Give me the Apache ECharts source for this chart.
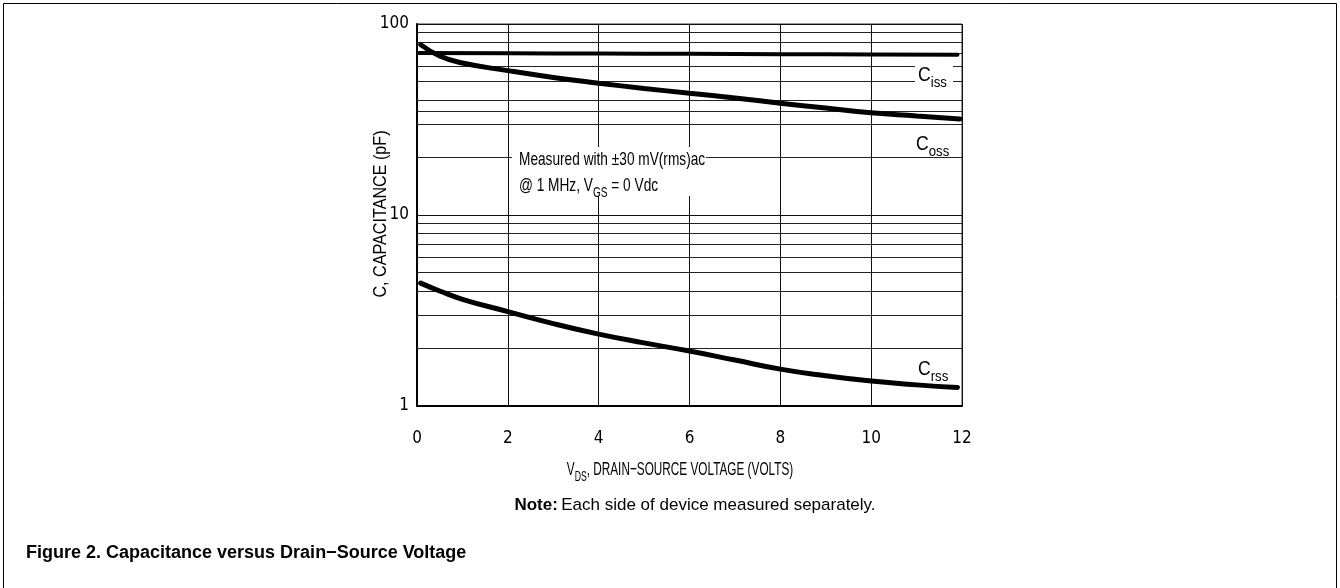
<!DOCTYPE html>
<html>
<head>
<meta charset="utf-8">
<script src="https://cdn.jsdelivr.net/npm/echarts@6/dist/echarts.min.js"></script>
<style>
  html, body { margin: 0; background: #fff; }
  #chart { width: 1340px; height: 588px; }
</style>
</head>
<body>
<div id="chart"></div>
<script>
// capacitance vs drain-source voltage, log y
const xTicks = [0, 2, 4, 6, 8, 10, 12]
const yTicks = [1, 10, 100]
const minorGrid = [2, 3, 4, 5, 6, 7, 8, 9, 20, 30, 35, 40, 50, 60, 70, 80, 90]

const cissV = [0.05, 2, 4, 6, 8, 10, 11.9]
const cissC = [70.5, 70.3, 70, 69.8, 69.5, 69.2, 69]
const cossV = [0.08, 0.5, 1, 2, 3, 4, 5, 6, 7, 8, 9, 10, 11, 11.95]
const cossC = [78, 68, 62.5, 57, 52.5, 49, 46, 43.4, 41, 38.5, 36.3, 34.3, 33, 31.8]
const crssV = [0.08, 0.5, 1, 2, 3, 4, 5, 6, 7, 8, 9, 10, 11, 11.9]
const crssC = [4.4, 4.0, 3.62, 3.12, 2.7, 2.38, 2.14, 1.94, 1.74, 1.56, 1.44, 1.35, 1.29, 1.25]

const COND = '"DejaVu Sans Condensed", sans-serif'
const SANS = '"Liberation Sans", Arial, sans-serif'

const pairs = (xs, ys) => xs.map((x, i) => [x, ys[i]])

// C + subscript rich styles
const subRich = (big, small) => ({
  m: { fontFamily: SANS, fontSize: big, color: '#000', lineHeight: big + 4 },
  s: { fontFamily: SANS, fontSize: small, color: '#000', lineHeight: big + 4, verticalAlign: 'bottom', padding: [0, 0, -3, 0] },
})

const curve = (name, data, width) => ({
  name,
  type: 'line',
  data,
  smooth: true,
  showSymbol: false,
  z: 5,
  lineStyle: { color: '#000', width, cap: 'round' },
})

const label = (x, y, text, scaleX, rich, align = 'left') => ({
  type: 'text', z: 11, x, y, scaleX,
  style: { text, rich, align, verticalAlign: 'middle' },
})

const chart = echarts.init(document.getElementById('chart'))
chart.setOption({
  animation: false,
  backgroundColor: '#fff',
  grid: { left: 417, top: 24, width: 545, height: 382, show: true, borderColor: '#333', borderWidth: 1 },
  xAxis: {
    type: 'value',
    min: xTicks[0],
    max: xTicks[xTicks.length - 1],
    interval: 2,
    axisLine: { lineStyle: { color: '#000', width: 2 } },
    axisTick: { show: false },
    axisLabel: { color: '#000', fontFamily: COND, fontSize: 17, margin: 24 },
    splitLine: { lineStyle: { color: '#111', width: 1 } },
  },
  yAxis: {
    type: 'log',
    logBase: 10,
    min: yTicks[0],
    max: yTicks[yTicks.length - 1],
    axisLine: { lineStyle: { color: '#000', width: 2 } },
    axisTick: { show: false },
    axisLabel: { color: '#000', fontFamily: COND, fontSize: 17, margin: 8 },
    splitLine: { lineStyle: { color: '#111', width: 1 } },
  },
  series: [
    {
      name: 'grid',
      type: 'line',
      data: [],
      z: 1,
      silent: true,
      markLine: {
        silent: true,
        symbol: 'none',
        label: { show: false },
        lineStyle: { color: '#222', width: 1, type: 'solid' },
        data: minorGrid.map(v => ({ yAxis: v })),
      },
    },
    curve('Ciss', pairs(cissV, cissC), 4),
    curve('Coss', pairs(cossV, cossC), 5),
    curve('Crss', pairs(crssV, crssC), 5),
  ],
  graphic: [
    // frame
    { type: 'rect', z: 0, shape: { x: 3.5, y: 3.5, width: 1333, height: 620 }, style: { fill: null, stroke: '#000', lineWidth: 1 } },
    // axis titles
    label(680, 470, '{m|V}{s|DS}{m|, DRAIN\u2212SOURCE VOLTAGE (VOLTS)}', 0.62, subRich(19, 14), 'center'),
    {
      type: 'text', z: 11, x: 381, y: 214, rotation: Math.PI / 2, scaleX: 0.85,
      style: { text: 'C, CAPACITANCE (pF)', fontFamily: SANS, fontSize: 19, fill: '#000', align: 'center', verticalAlign: 'middle' },
    },
    // annotation box
    { type: 'rect', z: 10, shape: { x: 512, y: 147, width: 194, height: 49 }, style: { fill: '#fff' } },
    label(519, 160, '{m|Measured with \u00b130 mV(rms)ac}', 0.72, subRich(19, 14)),
    label(519, 186, '{m|@ 1 MHz, V}{s|GS}{m| = 0 Vdc}', 0.72, subRich(19, 14)),
    // curve labels
    { type: 'rect', z: 10, shape: { x: 915, y: 61, width: 38, height: 29 }, style: { fill: '#fff' } },
    label(918, 75, '{m|C}{s|iss}', 0.88, subRich(20, 15)),
    label(916, 144, '{m|C}{s|oss}', 0.88, subRich(20, 15)),
    label(918, 369, '{m|C}{s|rss}', 0.88, subRich(20, 15)),
    // note + caption
    {
      type: 'text', z: 11, x: 695, y: 505,
      style: {
        text: '{b|Note:} {r|Each side of device measured separately.}',
        align: 'center', verticalAlign: 'middle',
        rich: {
          b: { fontFamily: SANS, fontSize: 17, fontWeight: 'bold', color: '#000' },
          r: { fontFamily: SANS, fontSize: 17, color: '#000' },
        },
      },
    },
    {
      type: 'text', z: 11, x: 26, y: 553,
      style: { text: 'Figure 2. Capacitance versus Drain\u2212Source Voltage', fontFamily: SANS, fontSize: 18, fontWeight: 'bold', fill: '#000', verticalAlign: 'middle' },
    },
  ],
})
</script>
</body>
</html>
